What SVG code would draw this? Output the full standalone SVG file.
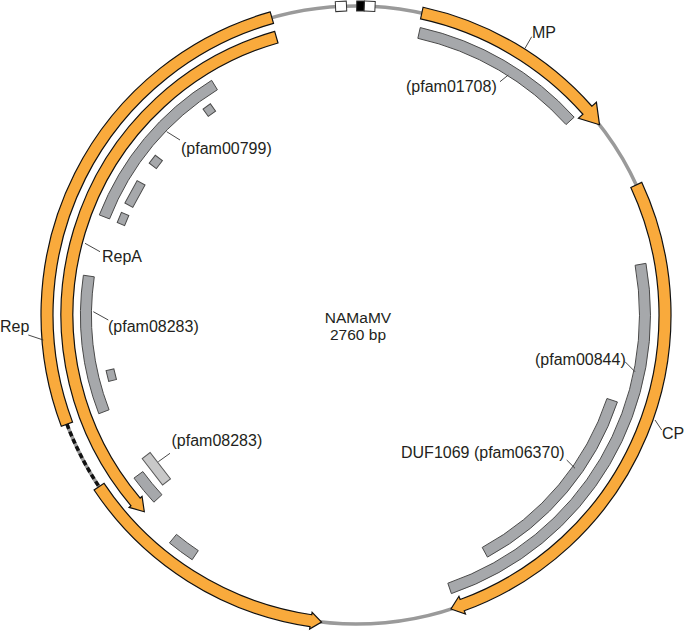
<svg xmlns="http://www.w3.org/2000/svg" width="685" height="631" viewBox="0 0 685 631">
<style>
.bb{fill:none;stroke:#9a9a9a;stroke-width:3.5}
.orf{fill:#F9AA3C;stroke:#111;stroke-width:1.2;stroke-linejoin:miter}
.dom{fill:#A6A8AB;stroke:#4a4a4a;stroke-width:1}
.dom2{fill:#C8C8C8;stroke:#5a5a5a;stroke-width:1}
.mk{fill:#fff;stroke:#333;stroke-width:1}
.mkb{fill:#000;stroke:#333;stroke-width:1}
.intron{fill:none;stroke:#111;stroke-width:3.5;stroke-dasharray:5 3}
.ld{stroke:#333;stroke-width:0.9;fill:none}
text{font-family:"Liberation Sans",Arial,Helvetica,sans-serif;font-size:16px;fill:#231F20}
text.c{font-size:15.5px}
</style>
<rect width="685" height="631" fill="#fff"/>
<g id="backbone">
<circle class="bb" cx="356" cy="315" r="309"/>
</g>
<g id="markers">
<rect class="mk" x="-5.5" y="-314" width="11" height="10" transform="translate(356 315) rotate(-2.78)"/>
<rect class="mkb" x="-3.8" y="-314" width="7.6" height="10" transform="translate(356 315) rotate(0.83)"/>
<rect class="mk" x="-5.35" y="-314" width="10.7" height="10" transform="translate(356 315) rotate(2.54)"/>
</g>
<g id="MP">
<path class="orf" d="M423.10 7.23 A315 315 0 0 1 591.92 106.27 L596.42 102.30 L599.50 124.76 L578.44 118.20 L582.94 114.23 A303 303 0 0 0 420.55 18.95 Z"/>
</g>
<g id="CP">
<path class="orf" d="M641.73 182.37 A315 315 0 0 1 464.25 610.81 L465.46 614.10 L450.97 609.04 L458.93 596.26 L460.13 599.54 A303 303 0 0 0 630.84 187.42 Z"/>
</g>
<g id="Rep">
<path class="orf" d="M270.23 11.90 A315 315 0 0 0 61.34 426.34 L72.56 422.10 A303 303 0 0 1 273.50 23.45 Z"/>
<path class="intron" d="M66.95 424.22 A309 309 0 0 0 99.08 486.67"/>
<path class="orf" d="M94.09 490.00 A315 315 0 0 0 309.98 626.62 L309.62 629.09 L321.56 622.07 L312.10 612.28 L311.74 614.75 A303 303 0 0 1 104.06 483.34 Z"/>
</g>
<g id="RepA">
<path class="orf" d="M274.69 31.43 A295 295 0 0 0 131.01 505.80 L129.11 507.42 L144.30 511.73 L142.07 496.42 L140.16 498.04 A283 283 0 0 1 277.99 42.96 Z"/>
</g>
<g id="pfam01708">
<path class="dom" d="M420.24 27.59 A294.5 294.5 0 0 1 574.17 117.18 L566.02 124.57 A283.5 283.5 0 0 0 417.84 38.33 Z"/>
</g>
<g id="pfam00844">
<path class="dom" d="M645.94 263.35 A294.5 294.5 0 0 1 451.39 593.62 L447.83 583.22 A283.5 283.5 0 0 0 635.11 265.28 Z"/>
</g>
<g id="pfam06370">
<path class="dom" d="M617.42 401.96 A275.5 275.5 0 0 1 487.46 557.12 L482.21 547.45 A264.5 264.5 0 0 0 606.98 398.49 Z"/>
</g>
<g id="pfam00799">
<path class="dom" d="M99.31 214.92 A275.5 275.5 0 0 1 211.64 80.35 L217.40 89.72 A264.5 264.5 0 0 0 109.56 218.92 Z"/>
<rect class="dom" x="-4.5" y="-256.5" width="9" height="9" transform="translate(356 315) rotate(324.4)"/>
<rect class="dom" x="-5" y="-256.5" width="10" height="9" transform="translate(356 315) rotate(307.4)"/>
<rect class="dom" x="-12.75" y="-256.5" width="25.5" height="9" transform="translate(356 315) rotate(298.7)"/>
<rect class="dom" x="-5.5" y="-256" width="11" height="8" transform="translate(356 315) rotate(292.4)"/>
</g>
<g id="pfam08283a">
<path class="dom" d="M98.80 413.73 A275.5 275.5 0 0 1 83.38 275.23 L94.27 276.82 A264.5 264.5 0 0 0 109.07 409.79 Z"/>
<rect class="dom" x="-5.5" y="-256" width="11" height="8" transform="translate(356 315) rotate(256.2)"/>
</g>
<g id="pfam08283b">
<rect class="dom2" x="-16.7" y="-257" width="33.4" height="10" transform="translate(356 315) rotate(232.4)"/>
<path class="dom" d="M153.88 502.19 A275.5 275.5 0 0 1 133.97 478.10 L142.83 471.59 A264.5 264.5 0 0 0 161.95 494.71 Z"/>
</g>
<g id="box-lower">
<path class="dom" d="M192.17 559.73 A294.5 294.5 0 0 1 169.47 542.90 L176.44 534.38 A283.5 283.5 0 0 0 198.29 550.59 Z"/>
</g>
<g id="connectors">
<line class="ld" x1="525" y1="48.3" x2="531.7" y2="36.7"/>
<line class="ld" x1="500" y1="81.7" x2="508.3" y2="75"/>
<line class="ld" x1="166.7" y1="131.7" x2="180" y2="140"/>
<line class="ld" x1="85" y1="243.3" x2="100" y2="251.7"/>
<line class="ld" x1="93.3" y1="311.7" x2="108.3" y2="320"/>
<line class="ld" x1="28.3" y1="335" x2="43.3" y2="340"/>
<line class="ld" x1="158.3" y1="461.7" x2="170" y2="453.3"/>
<line class="ld" x1="625" y1="361.7" x2="635" y2="371.7"/>
<line class="ld" x1="655" y1="420" x2="661.7" y2="430"/>
<line class="ld" x1="566.7" y1="460" x2="575" y2="468.3"/>
</g>
<g id="labels">
<text x="532" y="38">MP</text>
<text x="406" y="92">(pfam01708)</text>
<text x="181" y="154">(pfam00799)</text>
<text x="102" y="262">RepA</text>
<text x="108" y="332">(pfam08283)</text>
<text x="0" y="332">Rep</text>
<text x="171.5" y="446">(pfam08283)</text>
<text x="535" y="365">(pfam00844)</text>
<text x="662" y="439">CP</text>
<text x="401" y="458">DUF1069 (pfam06370)</text>
<text class="c" x="358" y="323.3" text-anchor="middle">NAMaMV</text>
<text class="c" x="358" y="339.5" text-anchor="middle">2760 bp</text>
</g>
</svg>
